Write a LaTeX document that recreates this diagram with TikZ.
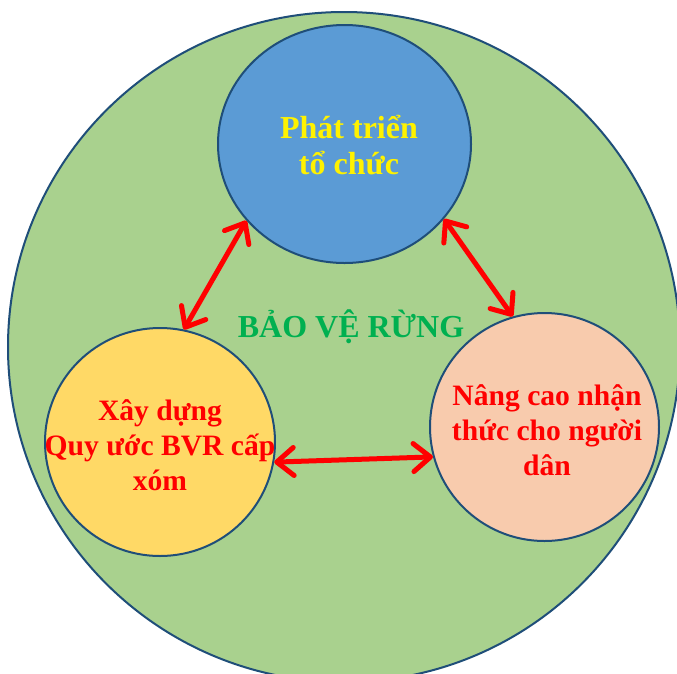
\documentclass[tikz,border=0pt]{standalone}
\usepackage{fontspec}
\setmainfont{Liberation Serif}
\usetikzlibrary{shapes.geometric,arrows.meta}
\definecolor{outerfill}{HTML}{A9D18E}
\definecolor{edgeblue}{HTML}{1F4E79}
\definecolor{topfill}{HTML}{5B9BD5}
\definecolor{leftfill}{HTML}{FFD966}
\definecolor{rightfill}{HTML}{F8CBAD}
\definecolor{titlegreen}{HTML}{00B050}
\begin{document}
\begin{tikzpicture}[x=1pt,y=-1pt,
  disk/.style={ellipse, draw=edgeblue, line width=2pt, inner sep=0pt},
  bigtxt/.style={font=\bfseries\fontsize{32}{36}\selectfont, align=center, inner sep=0pt},
  redtxt/.style={font=\bfseries\fontsize{29.6}{35}\selectfont, align=center, inner sep=0pt, text=red},
  link/.style={draw=red, line width=5pt, line cap=round,
    {Straight Barb[round,length=17pt,width=28pt]}-{Straight Barb[round,length=17pt,width=28pt]}}]
\useasboundingbox (0,0) rectangle (677,673);
\fill[white] (0,0) rectangle (677,673);
\clip (0,0) rectangle (677,673);
\node[disk, fill=outerfill, minimum width=672pt, minimum height=670pt] (outer) at (344,347) {};
\node[disk, fill=topfill, minimum width=253pt, minimum height=238pt] (top) at (344.5,144) {};
\node[disk, fill=leftfill, minimum width=230pt, minimum height=228pt] (left) at (160,442) {};
\node[disk, fill=rightfill, minimum width=229pt, minimum height=228pt] (right) at (544.5,427) {};
\node[bigtxt, text=yellow] (toptxt) at (349,145) {Phát triển\\tổ chức};
\node[redtxt] (lefttxt) at (160,445.5) {Xây dựng\\Quy ước BVR cấp\\xóm};
\node[redtxt] (righttxt) at (547,430) {Nâng cao nhận\\thức cho người\\dân};
\node[bigtxt, text=titlegreen, anchor=base] (title) at (351,337) {BẢO VỆ RỪNG};
\draw[link] (left.78) -- (top.218);
\draw[link] (top.323) -- (right.106);
\draw[link] (left.350) -- (right.195);
\end{tikzpicture}
\end{document}
